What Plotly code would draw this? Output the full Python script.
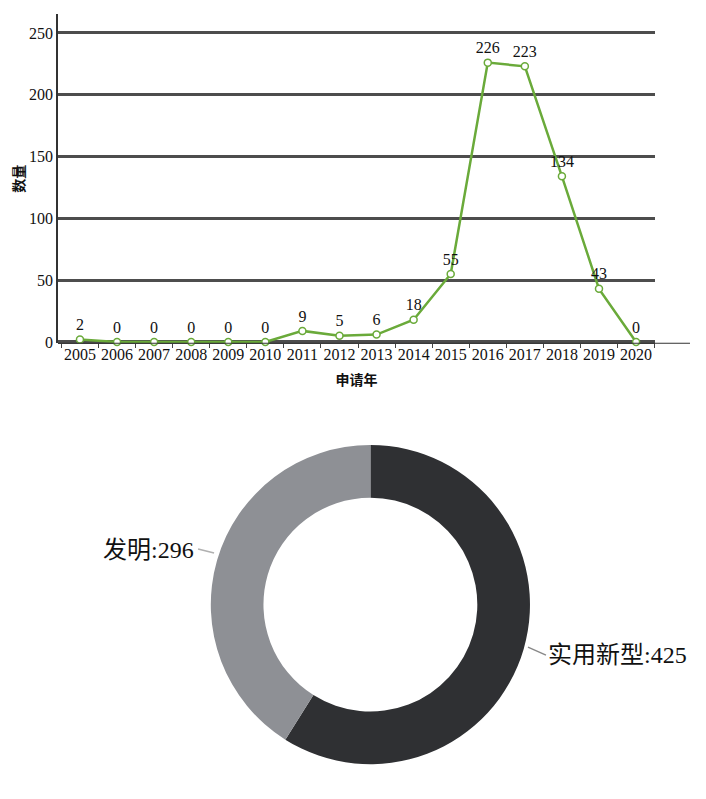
import plotly.graph_objects as go

# ---------- data ----------
years = [str(y) for y in range(2005, 2021)]
counts = [2, 0, 0, 0, 0, 0, 9, 5, 6, 18, 55, 226, 223, 134, 43, 0]

patent_types = ["实用新型", "发明"]
patent_counts = [425, 296]

SERIF = "Liberation Serif, Times New Roman, Noto Sans CJK SC, serif"
CJK = "Noto Sans CJK SC, sans-serif"

fig = go.Figure()

# line chart: applications per year
fig.add_trace(go.Scatter(
    x=years, y=counts,
    mode="lines+markers+text",
    text=[str(v) for v in counts],
    textposition="top center",
    textfont=dict(family=SERIF, size=16, color="#111"),
    line=dict(color="#6aaa3a", width=2.5),
    marker=dict(size=7, color="white", line=dict(color="#6aaa3a", width=1.5)),
    cliponaxis=False,
    showlegend=False,
    xaxis="x", yaxis="y",
))

# donut: patent type split (labels added as annotations below)
fig.add_trace(go.Pie(
    labels=patent_types, values=patent_counts,
    hole=0.67, sort=False, direction="clockwise", rotation=0,
    marker=dict(colors=["#2f3033", "#8e9095"], line=dict(width=0)),
    textinfo="none",
    showlegend=False,
    domain=dict(x=[0.2853, 0.7413], y=[0.0452, 0.4482]),
))

label_pos = {"发明": (0.2663, 0.3155, "right"), "实用新型": (0.762, 0.183, "left")}
annotations = []
for name, val in zip(patent_types, patent_counts):
    ax, ay, anchor = label_pos[name]
    annotations.append(dict(
        x=ax, y=ay, xref="paper", yref="paper", xanchor=anchor, yanchor="middle",
        text=f"{name}:{val}", showarrow=False,
        font=dict(family=SERIF, size=24, color="#111"),
    ))

fig.update_layout(
    width=706, height=799,
    margin=dict(l=0, r=0, t=0, b=0),
    paper_bgcolor="white", plot_bgcolor="white",
    xaxis=dict(
        domain=[0.0708, 0.9164], anchor="y",
        type="category", range=[-0.593, 15.51],
        showgrid=False, zeroline=False, showline=False,
        ticks="outside", ticklen=4, tickcolor="#444", tickson="boundaries",
        tickangle=0,
        tickfont=dict(family=SERIF, size=16, color="#111"),
        title=dict(text="申请年", font=dict(family=CJK, size=14, color="#111", weight="bold"), standoff=12),
    ),
    yaxis=dict(
        domain=[0.5767, 0.9919], anchor="x",
        range=[-1, 265], tickvals=[0, 50, 100, 150, 200, 250],
        showgrid=True, gridcolor="#4d4d4d", gridwidth=3,
        zeroline=True, zerolinecolor="#4d4d4d", zerolinewidth=4,
        showline=True, linecolor="#333", linewidth=1.5,
        ticks="", tickfont=dict(family=SERIF, size=16, color="#111"),
        title=dict(text="数量", font=dict(family=CJK, size=14, color="#111", weight="bold"), standoff=10),
    ),
    annotations=annotations,
    shapes=[
        # thin baseline extending past the plot
        dict(type="line", xref="paper", yref="paper", x0=0.0708, x1=0.966,
             y0=0.5767, y1=0.5767, line=dict(color="#333", width=1)),
        # leader lines for donut labels
        dict(type="line", xref="paper", yref="paper", x0=0.2692, x1=0.2919,
             y0=0.3169, y1=0.3119, line=dict(color="#b0b0b0", width=1.5)),
        dict(type="line", xref="paper", yref="paper", x0=0.7365, x1=0.762,
             y0=0.193, y1=0.183, line=dict(color="#888", width=1.5)),
    ],
)

fig.write_html("out.html")
